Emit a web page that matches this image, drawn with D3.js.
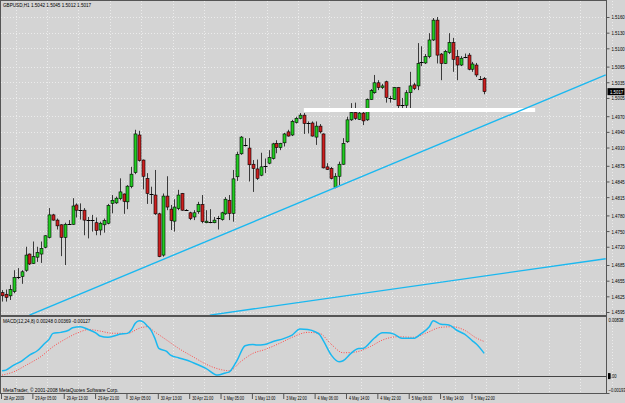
<!DOCTYPE html>
<html>
<head>
<meta charset="utf-8">
<script src="https://cdn.jsdelivr.net/npm/d3@7"></script>
<style>
body { margin: 0; background: #d4d4d4; }
svg { display: block; }
text { font-family: "Liberation Sans", Arial, sans-serif; font-size: 6px; fill: #000; }
</style>
</head>
<body>
<svg id="chart" width="625" height="403"></svg>
<script>
/* GBPUSD H1 candles with trend lines and MACD sub-window */

const symbol = "GBPUSD,H1";

const opens = [
  1.4632,1.4629,1.4626,1.4634,1.4661,1.4663,1.4675,1.4706,1.4688,1.4700,
  1.4706,1.4719,1.4738,1.4781,1.4771,1.4762,1.4738,1.4765,1.4763,1.4800,
  1.4790,1.4790,1.4773,1.4773,1.4766,1.4752,1.4762,1.4765,1.4803,1.4804,
  1.4812,1.4821,1.4806,1.4835,1.4862,1.4934,1.4886,1.4851,1.4822,1.4819,
  1.4783,1.4704,1.4817,1.4792,1.4769,1.4793,1.4822,1.4790,1.4785,1.4777,
  1.4787,1.4801,1.4766,1.4767,1.4766,1.4774,1.4772,1.4783,1.4809,1.4784,
  1.4854,1.4898,1.4916,1.4909,1.4878,1.4869,1.4857,1.4875,1.4880,1.4889,
  1.4918,1.4910,1.4919,1.4940,1.4934,1.4958,1.4966,1.4972,1.4956,1.4957,
  1.4930,1.4951,1.4936,1.4873,1.4870,1.4834,1.4855,1.4878,1.4921,1.4963,
  1.4977,1.4964,1.4976,1.4963,1.5002,1.5015,1.5034,1.5025,1.5036,1.5006,
  1.5002,1.5025,1.4993,1.4991,1.5015,1.5030,1.5028,1.5072,1.5072,1.5084,
  1.5116,1.5154,1.5089,1.5071,1.5092,1.5111,1.5084,1.5068,1.5083,1.5087,
  1.5060,1.5068,1.5043,1.5042
];
const highs = [
  1.4637,1.4638,1.4647,1.4675,1.4679,1.4675,1.4720,1.4707,1.4730,1.4720,
  1.4730,1.4742,1.4794,1.4783,1.4774,1.4763,1.4766,1.4771,1.4813,1.4803,
  1.4803,1.4794,1.4777,1.4781,1.4776,1.4768,1.4774,1.4802,1.4819,1.4816,
  1.4851,1.4822,1.4838,1.4873,1.4944,1.4942,1.4887,1.4861,1.4835,1.4867,
  1.4785,1.4822,1.4855,1.4800,1.4811,1.4829,1.4823,1.4792,1.4787,1.4790,
  1.4806,1.4819,1.4790,1.4792,1.4777,1.4779,1.4787,1.4815,1.4819,1.4867,
  1.4902,1.4932,1.4928,1.4928,1.4886,1.4887,1.4900,1.4889,1.4905,1.4919,
  1.4924,1.4919,1.4938,1.4944,1.4963,1.4969,1.4976,1.4976,1.4960,1.4960,
  1.4960,1.4955,1.4937,1.4880,1.4873,1.4861,1.4883,1.4928,1.4969,1.4995,
  1.4996,1.4983,1.4983,1.5004,1.5022,1.5049,1.5039,1.5032,1.5038,1.5009,
  1.5026,1.5026,1.5005,1.5020,1.5055,1.5034,1.5110,1.5104,1.5089,1.5129,
  1.5158,1.5160,1.5091,1.5097,1.5129,1.5120,1.5097,1.5085,1.5090,1.5091,
  1.5074,1.5072,1.5047,1.5045
];
const lows = [
  1.4615,1.4615,1.4618,1.4631,1.4658,1.4649,1.4672,1.4685,1.4687,1.4691,
  1.4689,1.4717,1.4736,1.4770,1.4753,1.4702,1.4685,1.4763,1.4762,1.4776,
  1.4772,1.4742,1.4736,1.4749,1.4742,1.4742,1.4747,1.4763,1.4784,1.4802,
  1.4809,1.4783,1.4792,1.4832,1.4859,1.4883,1.4830,1.4802,1.4802,1.4781,
  1.4700,1.4701,1.4790,1.4752,1.4749,1.4790,1.4789,1.4789,1.4771,1.4771,
  1.4783,1.4765,1.4765,1.4765,1.4765,1.4753,1.4770,1.4781,1.4771,1.4768,
  1.4846,1.4896,1.4912,1.4845,1.4825,1.4848,1.4855,1.4861,1.4878,1.4887,
  1.4899,1.4905,1.4912,1.4931,1.4932,1.4956,1.4964,1.4936,1.4937,1.4931,
  1.4915,1.4937,1.4870,1.4867,1.4849,1.4832,1.4838,1.4877,1.4919,1.4961,
  1.4963,1.4963,1.4953,1.4961,1.5001,1.5013,1.5020,1.5022,1.4996,1.4996,
  1.5001,1.4983,1.4983,1.4983,1.4983,1.5020,1.5020,1.5066,1.5070,1.5081,
  1.5114,1.5071,1.5039,1.5070,1.5089,1.5055,1.5039,1.5066,1.5081,1.5058,
  1.5055,1.5045,1.5039,1.5012
];
const closes = [
  1.4626,1.4623,1.4638,1.4661,1.4662,1.4672,1.4704,1.4687,1.4701,1.4709,
  1.4717,1.4741,1.4781,1.4771,1.4760,1.4738,1.4763,1.4764,1.4798,1.4790,
  1.4791,1.4771,1.4771,1.4772,1.4751,1.4765,1.4770,1.4799,1.4809,1.4813,
  1.4825,1.4807,1.4836,1.4859,1.4936,1.4885,1.4855,1.4822,1.4821,1.4783,
  1.4701,1.4817,1.4796,1.4770,1.4796,1.4819,1.4790,1.4791,1.4774,1.4785,
  1.4801,1.4768,1.4769,1.4768,1.4771,1.4775,1.4785,1.4811,1.4784,1.4850,
  1.4897,1.4930,1.4914,1.4877,1.4870,1.4851,1.4873,1.4874,1.4891,1.4917,
  1.4910,1.4918,1.4936,1.4932,1.4960,1.4966,1.4972,1.4956,1.4957,1.4932,
  1.4951,1.4940,1.4871,1.4868,1.4851,1.4855,1.4878,1.4918,1.4963,1.4977,
  1.4966,1.4976,1.4961,1.5002,1.5019,1.5034,1.5025,1.5028,1.5006,1.5004,
  1.5025,1.4990,1.4991,1.5015,1.5028,1.5023,1.5071,1.5073,1.5084,1.5116,
  1.5154,1.5087,1.5071,1.5094,1.5111,1.5079,1.5068,1.5081,1.5084,1.5060,
  1.5070,1.5049,1.5042,1.5017
];

const timeLabels = ["28 Apr 2009", "29 Apr 05:00", "29 Apr 13:00", "29 Apr 21:00",
  "30 Apr 05:00", "30 Apr 13:00", "30 Apr 21:00", "1 May 05:00", "1 May 13:00",
  "3 May 22:00", "4 May 06:00", "4 May 14:00", "4 May 22:00", "5 May 06:00",
  "5 May 14:00", "5 May 22:00"];

const priceTicks = [1.5160, 1.5130, 1.5100, 1.5065, 1.5035, 1.5005, 1.4970, 1.4940,
  1.4910, 1.4875, 1.4845, 1.4815, 1.4780, 1.4750, 1.4720, 1.4685, 1.4655, 1.4625, 1.4595];

const macdTitle = "MACD(12,24,8) 0.00248 0.00369 -0.00127";
const macdTicks = [0.00838, 0, -0.00193];

const macdMainBars = [0,1,3,5,7,9,11,12,13,15,17,18,20,22,24,25,27,29,30,32,33,34,35,36,37,38,39,40,
  42,43,45,47,50,52,55,57,58,60,62,64,65,67,69,72,74,76,78,80,81,82,84,86,87,89,91,92,95,97,98,
  100,102,105,107,109,110,112,114,116,118,120,121,123];
const macdMain = [0.00075,0.00085,0.00156,0.00213,0.00298,0.00359,0.0047,0.00521,0.00606,0.0062,
  0.0065,0.00686,0.007,0.0066,0.0061,0.00568,0.0055,0.00575,0.00592,0.00606,0.00653,0.00748,
  0.00785,0.0077,0.00715,0.00653,0.00535,0.00393,0.0035,0.00298,0.0026,0.00227,0.0016,0.00109,
  0.00014,0.00045,0.00061,0.00227,0.0043,0.00448,0.0044,0.00448,0.00487,0.00535,0.00582,0.00667,
  0.0066,0.00625,0.0059,0.005,0.00298,0.00203,0.00217,0.00322,0.00393,0.00393,0.0054,0.00615,
  0.00615,0.00595,0.00535,0.00535,0.00606,0.007,0.00785,0.00735,0.00726,0.0065,0.00595,0.005,
  0.00454,0.00322];

const macdSignalBars = [0,3,6,10,13,16,20,22,25,28,32,35,37,39,42,45,49,52,56,58,61,64,67,71,74,
  78,81,84,87,90,94,97,101,105,108,112,115,118,121,123];
const macdSignal = [0.00014,0.00061,0.0015,0.0028,0.00416,0.0052,0.00629,0.0066,0.00639,0.00608,
  0.00606,0.00677,0.007,0.00625,0.00511,0.00395,0.00265,0.0017,0.0009,0.00075,0.0021,0.00322,
  0.00375,0.0047,0.0055,0.0062,0.00606,0.0045,0.00331,0.0034,0.0042,0.0051,0.00558,0.0055,
  0.00606,0.00692,0.007,0.0065,0.0054,0.0049];

// chart objects, anchored at [bar, price]
const trendLines = [
  [[7, 1.4589], [154, 1.5049]],
  [[53, 1.4589], [154, 1.4697]]
];
const supportLine = [[77, 1.4982], [136, 1.4982]];

const chart = {};
const svg = d3.select("#chart");

const x = d3.scaleLinear().domain([0, 123]).range([2, 484.2]);
const y = d3.scaleLinear().domain([1.4595, 1.5160]).range([312, 17]);
const my = d3.scaleLinear().domain([-0.00193, 0.00838]).range([389.7, 317]);

const fmt4 = d3.format(".4f");
const axisRightX = 606.5;

// the terminal font is narrow: squash text sideways around its own x
function squeeze(sel, ratio) {
  sel.each(function() {
    const t = d3.select(this);
    const x0 = +t.attr("x") || 0;
    t.attr("x", x0 / ratio).attr("transform", `scale(${ratio},1)`);
  });
}

chart.drawGrid = function() {
  const g = svg.append("g").attr("class", "grid")
    .attr("stroke", "#ececec").attr("stroke-dasharray", "1,2");
  g.selectAll("line.h").data(priceTicks).join("line").attr("class", "h")
    .attr("x1", 1).attr("x2", axisRightX)
    .attr("y1", d => Math.round(y(d)) + 0.5).attr("y2", d => Math.round(y(d)) + 0.5);
  const vbars = d3.range(3.5, 156, 8);
  g.selectAll("line.v").data(vbars).join("line").attr("class", "v")
    .attr("x1", d => Math.round(x(d)) + 0.5).attr("x2", d => Math.round(x(d)) + 0.5)
    .attr("y1", 1).attr("y2", 393);
}

chart.drawFrame = function() {
  const g = svg.append("g").attr("class", "frame").attr("stroke", "#555").attr("fill", "none");
  g.append("line").attr("x1", 0.5).attr("x2", 0.5).attr("y1", 0).attr("y2", 394);
  g.append("line").attr("x1", 0).attr("x2", axisRightX).attr("y1", 0.5).attr("y2", 0.5);
  g.append("line").attr("x1", axisRightX).attr("x2", axisRightX).attr("y1", 0).attr("y2", 394);
  g.append("line").attr("x1", 0).attr("x2", axisRightX).attr("y1", 316).attr("y2", 316)
    .attr("stroke-width", 2);
  g.append("line").attr("x1", 0).attr("x2", axisRightX + 3).attr("y1", 393.5).attr("y2", 393.5);
  g.append("line").attr("x1", 0).attr("x2", axisRightX).attr("y1", Math.round(my(0)) + 0.5)
    .attr("y2", Math.round(my(0)) + 0.5).attr("stroke", "#444");
}

chart.drawCandles = function() {
  const bars = opens.map((o, i) => ({i: i, o: o, h: highs[i], l: lows[i], c: closes[i]}));
  const g = svg.append("g").attr("clip-path", "url(#clipMain)");
  const px = d => Math.round(x(d.i));

  g.selectAll("line.wick").data(bars).join("line").attr("class", "wick")
    .attr("x1", d => px(d) + 0.5).attr("x2", d => px(d) + 0.5)
    .attr("y1", d => y(d.h)).attr("y2", d => y(d.l))
    .attr("stroke", "#3a3a3a").attr("stroke-width", 1);

  const bodies = bars.filter(d => Math.abs(y(d.o) - y(d.c)) >= 1.2);
  g.selectAll("rect.body").data(bodies).join("rect").attr("class", "body")
    .attr("x", d => px(d) - 1).attr("width", 3)
    .attr("y", d => y(Math.max(d.o, d.c)))
    .attr("height", d => Math.abs(y(d.o) - y(d.c)))
    .attr("fill", d => d.c >= d.o ? "#22cc22" : "#cc2020")
    .attr("stroke", "#000").attr("stroke-width", 0.6);

  const dojis = bars.filter(d => Math.abs(y(d.o) - y(d.c)) < 1.2);
  g.selectAll("line.doji").data(dojis).join("line").attr("class", "doji")
    .attr("x1", d => px(d) - 1.5).attr("x2", d => px(d) + 2.5)
    .attr("y1", d => Math.round(y(d.c)) + 0.5).attr("y2", d => Math.round(y(d.c)) + 0.5)
    .attr("stroke", "#000").attr("stroke-width", 1);
}

chart.drawObjects = function() {
  const g = svg.append("g").attr("clip-path", "url(#clipMain)");
  const line = d3.line().x(d => x(d[0])).y(d => y(d[1]));
  g.append("path").datum(supportLine).attr("d", line)
    .attr("stroke", "#ffffff").attr("stroke-width", 4).attr("fill", "none");
  g.selectAll("path.trend").data(trendLines).join("path").attr("class", "trend")
    .attr("d", line).attr("stroke", "#1ab8f0").attr("stroke-width", 1.4).attr("fill", "none");
}

chart.drawMacd = function() {
  const g = svg.append("g").attr("clip-path", "url(#clipMacd)");
  const main = macdMainBars.map((b, i) => [b, macdMain[i]]);
  const signal = macdSignalBars.map((b, i) => [b, macdSignal[i]]);
  const line = d3.line().x(d => x(d[0])).y(d => my(d[1])).curve(d3.curveMonotoneX);
  g.append("path").datum(signal).attr("d", line)
    .attr("stroke", "#ff4a4a").attr("stroke-width", 1).attr("stroke-dasharray", "1,1.5")
    .attr("fill", "none");
  g.append("path").datum(main).attr("d", line)
    .attr("stroke", "#1ab8f0").attr("stroke-width", 1.5).attr("fill", "none");
}

chart.drawAxes = function() {
  const pAxis = svg.append("g").attr("transform", `translate(${axisRightX},0)`)
    .call(d3.axisRight(y).tickValues(priceTicks).tickFormat(fmt4).tickSize(3).tickPadding(2));
  pAxis.select(".domain").remove();
  pAxis.selectAll("line").attr("stroke", "#555");
  pAxis.selectAll("text").attr("font-size", 6).attr("fill", "#000");
  squeeze(pAxis.selectAll("text"), 0.72);

  const n = closes.length - 1;
  const cur = svg.append("g").attr("transform", `translate(${axisRightX + 1},${y(closes[n])})`);
  cur.append("rect").attr("x", 0).attr("y", -3.5).attr("width", 17).attr("height", 7).attr("fill", "#000");
  const curText = cur.append("text").attr("x", 2.5).attr("dy", "0.35em")
    .style("fill", "#fff").text(fmt4(closes[n]));
  squeeze(curText, 0.72);

  const tAxis = svg.append("g").attr("transform", "translate(0,394)")
    .call(d3.axisBottom(x).tickValues(d3.range(0, 124, 8))
      .tickFormat((d, i) => timeLabels[i]).tickSize(5));
  tAxis.select(".domain").remove();
  tAxis.selectAll("line").attr("stroke", "#555").attr("transform", "translate(-1,0)");
  tAxis.selectAll("text").attr("text-anchor", "start").attr("x", 1.5).attr("y", 1.8)
    .attr("dy", "0.71em").attr("font-size", 6).attr("fill", "#000");
  squeeze(tAxis.selectAll("text"), 0.62);

  const mLabels = svg.append("g").selectAll("text").data(macdTicks).join("text")
    .attr("x", axisRightX + 2)
    .attr("y", d => Math.min(391, Math.max(319.5, my(d))))
    .attr("dy", "0.35em")
    .text(d => d === 0 ? "0.00" : d3.format(".5f")(d));
  squeeze(mLabels, 0.68);
  svg.append("rect").attr("x", axisRightX + 1.5).attr("y", my(0) - 3).attr("width", 2.5)
    .attr("height", 6).attr("fill", "#000");
}

chart.drawTitles = function() {
  const n = closes.length - 1;
  const title = [symbol, fmt4(opens[n]), fmt4(highs[n]), fmt4(lows[n]), fmt4(closes[n])].join(" ");
  const t1 = svg.append("text").attr("x", 3).attr("y", 7.5).text(title);
  squeeze(t1, 0.77);
  const t2 = svg.append("text").attr("x", 3).attr("y", 323).text(macdTitle);
  squeeze(t2, 0.77);
  const t3 = svg.append("text").attr("x", 3).attr("y", 392.3)
    .text("MetaTrader, \u00a9 2001-2008 MetaQuotes Software Corp.");
  squeeze(t3, 0.8);
}

const defs = svg.append("defs");
defs.append("clipPath").attr("id", "clipMain").append("rect")
  .attr("x", 1).attr("y", 1).attr("width", axisRightX - 1).attr("height", 314);
defs.append("clipPath").attr("id", "clipMacd").append("rect")
  .attr("x", 1).attr("y", 317).attr("width", axisRightX - 1).attr("height", 76);

chart.drawGrid();
chart.drawCandles();
chart.drawObjects();
chart.drawMacd();
chart.drawFrame();
chart.drawAxes();
chart.drawTitles();
</script>
</body>
</html>
